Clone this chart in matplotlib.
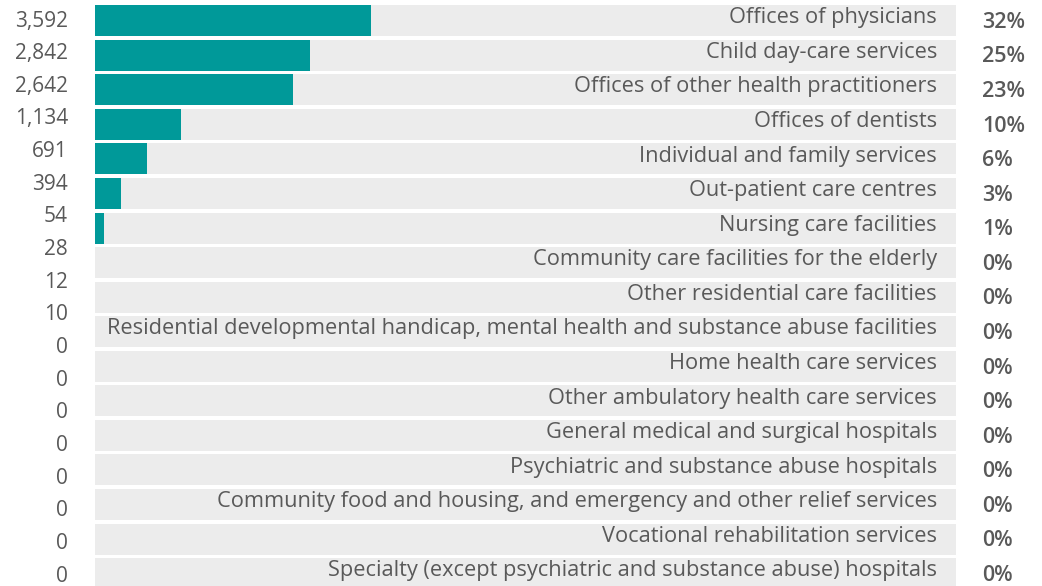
import matplotlib.pyplot as plt
import numpy as np

plt.rcParams['font.family'] = ['Open Sans', 'DejaVu Sans']

# 类别 (由上到下)
categories = [
    "Offices of physicians",
    "Child day-care services",
    "Offices of other health practitioners",
    "Offices of dentists",
    "Individual and family services",
    "Out-patient care centres",
    "Nursing care facilities",
    "Community care facilities for the elderly",
    "Other residential care facilities",
    "Residential developmental handicap, mental health and substance abuse facilities",
    "Home health care services",
    "Other ambulatory health care services",
    "General medical and surgical hospitals",
    "Psychiatric and substance abuse hospitals",
    "Community food and housing, and emergency and other relief services",
    "Vocational rehabilitation services",
    "Specialty (except psychiatric and substance abuse) hospitals",
]
shares = [32, 25, 23, 10, 6, 3, 1, 0, 0, 0, 0, 0, 0, 0, 0, 0, 0]

# 左侧计数列 (18 个, 与条形不对齐)
counts = [3592, 2842, 2642, 1134, 691, 394, 54, 28, 12, 10, 0, 0, 0, 0, 0, 0, 0, 0]

TEAL = '#009999'
BG = '#ececec'
TXT = '#595959'

fig = plt.figure(figsize=(10.42, 5.86), dpi=100)
W, H = 1042, 586
row = 34.57
top_px = 3.3
n = len(categories)
ax = fig.add_axes([95 / W, (H - top_px - n * row) / H, 861 / W, n * row / H])

y = np.arange(n)
ax.barh(y, [100] * n, height=0.897, color=BG)
ax.barh(y, shares, height=0.897, color=TEAL)
ax.set_xlim(0, 100)
ax.set_ylim(n - 0.5, -0.5)
ax.axis('off')

lab_x = (937 - 95) / 861 * 100
pct_x = (982 - 95) / 861 * 100
for yi, cat, s in zip(y, categories, shares):
    ax.text(lab_x, yi - 0.08, cat, ha='right', va='center', fontsize=15.7, color=TXT)
    ax.text(pct_x, yi + 0.05, f"{s}%", ha='left', va='center', fontsize=15.5,
            fontweight='semibold', color=TXT, clip_on=False)

# 左侧数字按自身间距均匀排列
ys = np.linspace(1 - 21 / H, 1 - 576 / H, len(counts))
for yy, c in zip(ys, counts):
    fig.text(68 / W, yy, f"{c:,}", ha='right', va='center', fontsize=15, color=TXT)

fig.savefig('out.png', dpi=100)
